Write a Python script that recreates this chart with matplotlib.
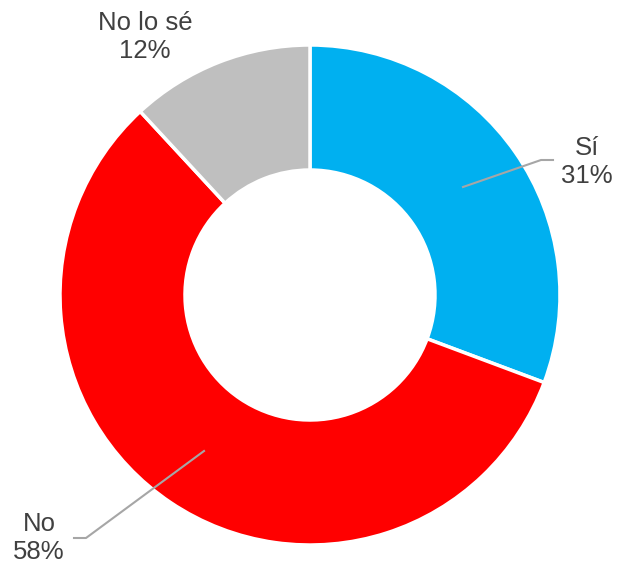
import numpy as np
import matplotlib.pyplot as plt

plt.rcParams['font.family'] = ['Liberation Sans', 'DejaVu Sans']

# data
labels = ['Sí', 'No', 'No lo sé']
values = [31, 58, 12]
colors = ['#00B0F0', '#FF0000', '#BFBFBF']

W, H = 617, 566
fig = plt.figure(figsize=(W / 100, H / 100), dpi=100)
ax = fig.add_axes([0, 0, 1, 1])

cx, cy = 310, H - 295
r = 250
wedges, _ = ax.pie(values, colors=colors, startangle=90, counterclock=False,
                   radius=r, center=(cx, cy), frame=True,
                   wedgeprops=dict(width=r * 0.5, edgecolor='white', linewidth=2.5))
ax.set_xlim(0, W)
ax.set_ylim(0, H)
ax.set_aspect('equal')
ax.axis('off')

txt = '#404040'
line_c = '#A6A6A6'

# label positions (pixel coords, top-left origin)
lab_pos = [(587, 162), (39, 538), (145, 37)]
leaders = [
    [(463, 187), (541, 160), (553, 160)],
    [(204, 451), (86, 538), (74, 538)],
    None,
]
for lab, v, (x, y), ld in zip(labels, values, lab_pos, leaders):
    ax.text(x, H - y, f'{lab}\n{v}%', ha='center', va='center', fontsize=18.5,
            color=txt, linespacing=1.25)
    if ld:
        xs = [p[0] for p in ld]
        ys = [H - p[1] for p in ld]
        ax.plot(xs, ys, color=line_c, lw=1.5)

fig.savefig('out.png', dpi=100)
